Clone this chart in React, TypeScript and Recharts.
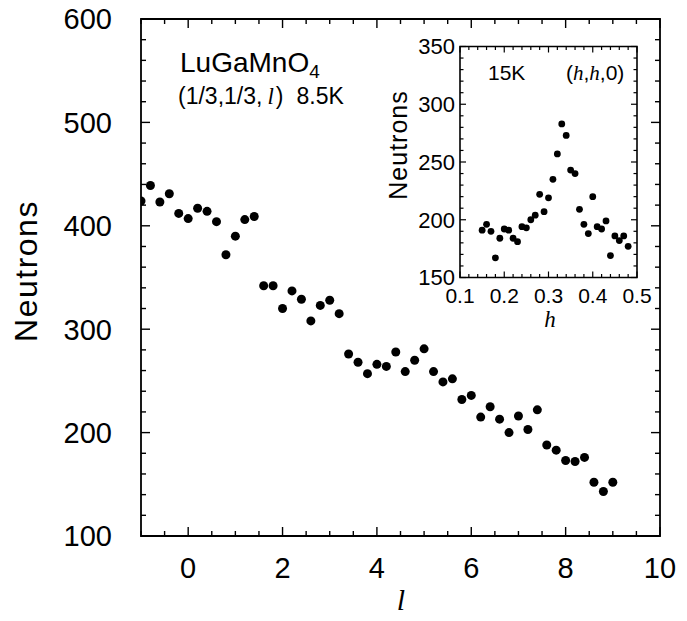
import React from "react";
import { ScatterChart, Scatter, XAxis, YAxis, ReferenceArea } from "recharts";

// main scan along (1/3,1/3,l) at 8.5K
const lValues = [
  -1.0, -0.8, -0.6, -0.4, -0.2, 0.0, 0.2, 0.4, 0.6, 0.8,
  1.0, 1.2, 1.4, 1.6, 1.8, 2.0, 2.2, 2.4, 2.6, 2.8,
  3.0, 3.2, 3.4, 3.6, 3.8, 4.0, 4.2, 4.4, 4.6, 4.8,
  5.0, 5.2, 5.4, 5.6, 5.8, 6.0, 6.2, 6.4, 6.6, 6.8,
  7.0, 7.2, 7.4, 7.6, 7.8, 8.0, 8.2, 8.4, 8.6, 8.8, 9.0,
];
const lCounts = [
  424, 439, 423, 431, 412, 407, 417, 414, 404, 372,
  390, 406, 409, 342, 342, 320, 337, 329, 308, 323,
  328, 315, 276, 268, 257, 266, 264, 278, 259, 270,
  281, 259, 249, 252, 232, 236, 215, 225, 213, 200,
  216, 203, 222, 188, 183, 173, 172, 176, 152, 143, 152,
];

// inset scan along (h,h,0) at 15K
const hValues = [
  0.15, 0.16, 0.17, 0.18, 0.19, 0.2, 0.21, 0.22, 0.23, 0.24,
  0.25, 0.26, 0.27, 0.28, 0.29, 0.3, 0.31, 0.32, 0.33, 0.34,
  0.35, 0.36, 0.37, 0.38, 0.39, 0.4, 0.41, 0.42, 0.43, 0.44,
  0.45, 0.46, 0.47, 0.48,
];
const hCounts = [
  191, 196, 190, 167, 184, 192, 191, 184, 181, 194,
  193, 200, 204, 222, 207, 219, 235, 257, 283, 273,
  243, 240, 209, 196, 188, 220, 194, 192, 199, 169,
  186, 182, 186, 177,
];

const lTicks = [-1, -0.5, 0, 0.5, 1, 1.5, 2, 2.5, 3, 3.5, 4, 4.5, 5, 5.5, 6, 6.5, 7, 7.5, 8, 8.5, 9, 9.5, 10];
const lLabels = [0, 2, 4, 6, 8, 10];
const nTicks = [
  100, 120, 140, 160, 180, 200, 220, 240, 260, 280, 300, 320, 340,
  360, 380, 400, 420, 440, 460, 480, 500, 520, 540, 560, 580, 600,
];
const nLabels = [100, 200, 300, 400, 500, 600];

const hTicks = [
  0.1, 0.12, 0.14, 0.16, 0.18, 0.2, 0.22, 0.24, 0.26, 0.28, 0.3,
  0.32, 0.34, 0.36, 0.38, 0.4, 0.42, 0.44, 0.46, 0.48, 0.5,
];
const hLabels = [0.1, 0.2, 0.3, 0.4, 0.5];
const iTicks = [
  150, 160, 170, 180, 190, 200, 210, 220, 230, 240, 250, 260, 270,
  280, 290, 300, 310, 320, 330, 340, 350,
];
const iLabels = [150, 200, 250, 300, 350];

const mainData = lValues.map((l, i) => ({ l, n: lCounts[i] }));
const insetData = hValues.map((h, i) => ({ h, n: hCounts[i] }));

const W = 687;
const H = 621;
const SANS = "'Liberation Sans', Arial, Helvetica, sans-serif";
const SERIF = "'Liberation Serif', 'Times New Roman', serif";

// main plot box
const PL = 141;
const PR = 660;
const PT = 19;
const PB = 536;

// inset box, relative to its own chart (chart placed at IX, IY on the page)
const IX = 370;
const IY = 20;
const IW = 300;
const IH = 320;
const IL = 90;
const IR = 267;
const IT = 26.5;
const IB = 257.5;

const MainXTick = (p: any) => {
  const v = p.payload.value;
  const major = lLabels.includes(v);
  const len = major ? 9 : 5;
  return (
    <g>
      <line x1={p.x} x2={p.x} y1={PB} y2={PB - len} stroke="#000" strokeWidth={1.4} />
      <line x1={p.x} x2={p.x} y1={PT} y2={PT + len} stroke="#000" strokeWidth={1.4} />
      {major && (
        <text x={p.x} y={PB + 42} textAnchor="middle" fontSize={29} fontFamily={SANS} fill="#000">
          {v}
        </text>
      )}
    </g>
  );
};

const MainYTick = (p: any) => {
  const v = p.payload.value;
  const major = nLabels.includes(v);
  const len = major ? 9 : 5;
  return (
    <g>
      <line x1={PL} x2={PL + len} y1={p.y} y2={p.y} stroke="#000" strokeWidth={1.4} />
      <line x1={PR} x2={PR - len} y1={p.y} y2={p.y} stroke="#000" strokeWidth={1.4} />
      {major && (
        <text x={PL - 29} y={p.y} dy="0.36em" textAnchor="end" fontSize={29} fontFamily={SANS} fill="#000">
          {v}
        </text>
      )}
    </g>
  );
};

const InsetXTick = (p: any) => {
  const v = p.payload.value;
  const major = hLabels.includes(v);
  const len = major ? 6 : 3.5;
  return (
    <g>
      <line x1={p.x} x2={p.x} y1={IB} y2={IB - len} stroke="#000" strokeWidth={1.2} />
      <line x1={p.x} x2={p.x} y1={IT} y2={IT + len} stroke="#000" strokeWidth={1.2} />
      {major && (
        <text x={p.x} y={IB + 25.5} textAnchor="middle" fontSize={21} fontFamily={SANS} fill="#000">
          {v.toFixed(1)}
        </text>
      )}
    </g>
  );
};

const InsetYTick = (p: any) => {
  const v = p.payload.value;
  const major = iLabels.includes(v);
  const len = major ? 6 : 3.5;
  return (
    <g>
      <line x1={IL} x2={IL + len} y1={p.y} y2={p.y} stroke="#000" strokeWidth={1.2} />
      <line x1={IR} x2={IR - len} y1={p.y} y2={p.y} stroke="#000" strokeWidth={1.2} />
      {major && (
        <text x={IL - 5} y={p.y} dy="0.36em" textAnchor="end" fontSize={22} fontFamily={SANS} fill="#000">
          {v}
        </text>
      )}
    </g>
  );
};

const bigDot = (p: any) => <circle cx={p.cx} cy={p.cy} r={4.5} fill="#000" />;
const smallDot = (p: any) => <circle cx={p.cx} cy={p.cy} r={3.4} fill="#000" />;

export default function App() {
  return (
    <div style={{ position: "absolute", left: 0, top: 0, width: W, height: H, background: "#fff" }}>
      <ScatterChart width={W} height={H} margin={{ top: PT, right: W - PR, bottom: 0, left: 0 }}>
        <XAxis
          type="number"
          dataKey="l"
          domain={[-1, 10]}
          ticks={lTicks}
          interval={0}
          height={H - PB}
          axisLine={false}
          tickLine={false}
          tickSize={0}
          tickMargin={0}
          tick={<MainXTick />}
          allowDataOverflow
        />
        <YAxis
          type="number"
          dataKey="n"
          domain={[100, 600]}
          ticks={nTicks}
          interval={0}
          width={PL}
          axisLine={false}
          tickLine={false}
          tickSize={0}
          tickMargin={0}
          tick={<MainYTick />}
          allowDataOverflow
        />
        <ReferenceArea x1={-1} x2={10} y1={100} y2={600} fill="none" fillOpacity={0} stroke="#000" strokeWidth={1.8} />
        <Scatter data={mainData} shape={bigDot} isAnimationActive={false} />
      </ScatterChart>

      <div style={{ position: "absolute", left: IX, top: IY, width: IW, height: IH }}>
        <ScatterChart width={IW} height={IH} margin={{ top: IT, right: IW - IR, bottom: 0, left: 0 }}>
          <XAxis
            type="number"
            dataKey="h"
            domain={[0.1, 0.5]}
            ticks={hTicks}
            interval={0}
            height={IH - IB}
            axisLine={false}
            tickLine={false}
            tickSize={0}
            tickMargin={0}
            tick={<InsetXTick />}
            allowDataOverflow
          />
          <YAxis
            type="number"
            dataKey="n"
            domain={[150, 350]}
            ticks={iTicks}
            interval={0}
            width={IL}
            axisLine={false}
            tickLine={false}
            tickSize={0}
            tickMargin={0}
            tick={<InsetYTick />}
            allowDataOverflow
          />
          <ReferenceArea x1={0.1} x2={0.5} y1={150} y2={350} fill="none" fillOpacity={0} stroke="#000" strokeWidth={1.6} />
          <Scatter data={insetData} shape={smallDot} isAnimationActive={false} />
        </ScatterChart>
      </div>

      <svg width={W} height={H} style={{ position: "absolute", left: 0, top: 0, pointerEvents: "none" }}>
        <text
          transform="translate(25,271) rotate(-90)"
          textAnchor="middle"
          dy="0.36em"
          fontSize={32}
          letterSpacing={1.5}
          fontFamily={SANS}
        >
          Neutrons
        </text>
        <text x={401} y={610} textAnchor="middle" fontSize={30} fontStyle="italic" fontFamily={SERIF}>
          l
        </text>
        <text x={180} y={72} fontSize={28} fontFamily={SANS}>
          LuGaMnO
          <tspan fontSize={19} dy={6}>4</tspan>
        </text>
        <text x={178} y={104} fontSize={23} fontFamily={SANS}>
          (1/3,1/3,
          <tspan fontFamily={SERIF} fontStyle="italic" dx={5}>l</tspan>
          <tspan dx={2}>)</tspan>
          <tspan dx={13}>8.5K</tspan>
        </text>

        <text
          transform="translate(398,145) rotate(-90)"
          textAnchor="middle"
          dy="0.36em"
          fontSize={25}
          letterSpacing={1}
          fontFamily={SANS}
        >
          Neutrons
        </text>
        <text x={488} y={80} fontSize={21} fontFamily={SANS}>
          15K
        </text>
        <text x={566} y={80} fontSize={21} fontFamily={SANS}>
          (<tspan fontFamily={SERIF} fontStyle="italic">h</tspan>,
          <tspan fontFamily={SERIF} fontStyle="italic">h</tspan>,0)
        </text>
        <text x={550} y={327} textAnchor="middle" fontSize={23} fontStyle="italic" fontFamily={SERIF}>
          h
        </text>
      </svg>
    </div>
  );
}
